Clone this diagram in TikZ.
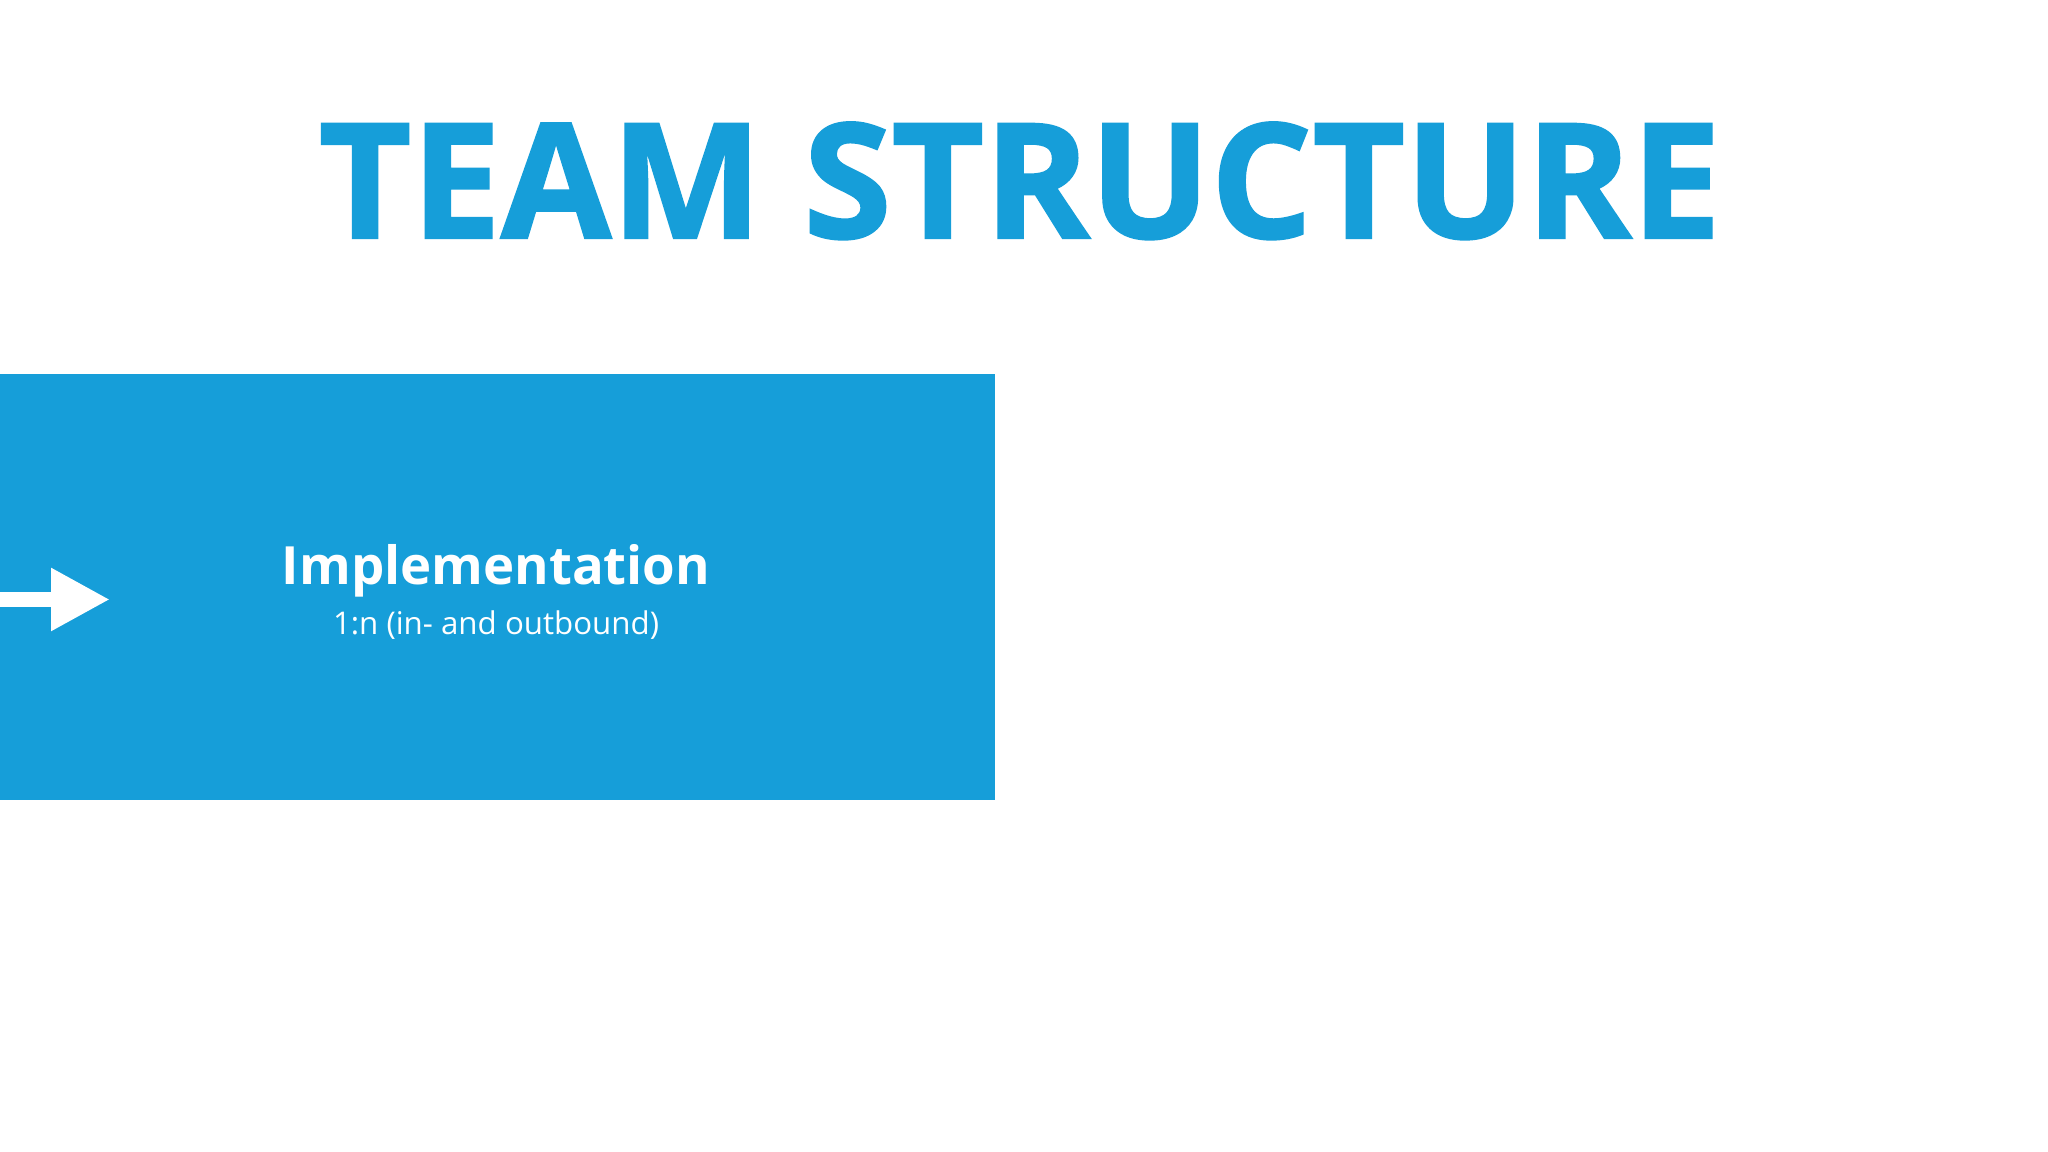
\documentclass[tikz,border=0pt]{standalone}
\usepackage{fontspec}
\setmainfont{Open Sans}
\newfontfamily\titlefont[FakeBold=1.4]{Open Sans Bold}
\usetikzlibrary{arrows.meta}

\definecolor{teamblue}{RGB}{22,158,217}

\begin{document}
\begin{tikzpicture}
	% Fix the page size
	\fill[white] (0, 0) rectangle (20.48, 11.52);
	\useasboundingbox (0, 0) rectangle (20.48, 11.52);

	% Styles for the texts
	\tikzset{heading/.style = {anchor = base, text = teamblue, inner sep = 0, font = \titlefont\fontsize{45.5}{45.5}\selectfont}}
	\tikzset{boxtitle/.style = {anchor = base, text = white, inner sep = 0, font = \bfseries\fontsize{15}{15}\selectfont}}
	\tikzset{boxsub/.style = {anchor = base, text = white, inner sep = 0, font = \fontsize{8.9}{8.9}\selectfont}}

	% Title
	\node[heading] (title) at (10.20, 9.14) {TEAM STRUCTURE};

	% The blue box (runs off the left edge)
	\node[fill = teamblue, anchor = north east, inner sep = 0, minimum width = 10.16cm, minimum height = 4.26cm] (implbox) at (9.96, 7.79) {};
	\node[boxtitle] (impl) at (4.96, 5.67) {Implementation};
	\node[boxsub] (implsub) at (4.96, 5.17) {1:n (in- and outbound)};

	% Incoming arrow
	\coordinate (arrowstart) at (-0.2, 5.525);
	\coordinate (arrowend) at (1.10, 5.525);
	\draw[white, line width = 0.15cm, -{Triangle[length = 0.59cm, width = 0.59cm]}] (arrowstart)--(arrowend);

\end{tikzpicture}
\end{document}
